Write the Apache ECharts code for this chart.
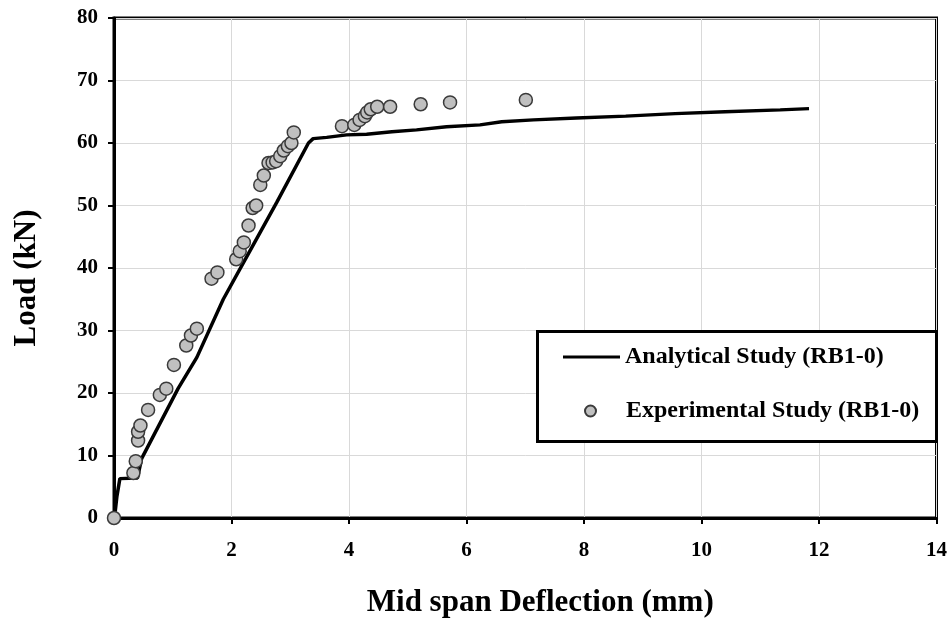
<!DOCTYPE html>
<html>
<head>
<meta charset="utf-8">
<script src="https://cdn.jsdelivr.net/npm/echarts@6/dist/echarts.min.js"></script>
<style>
  html, body { margin: 0; padding: 0; background: #fff; }
  #chart { width: 950px; height: 623px; }
</style>
</head>
<body>
<div id="chart"></div>
<script>
// Load–deflection response of beam RB1-0
const analyticalDeflection = [0, 0.02, 0.05, 0.10, 0.40, 0.47, 1.09, 1.41, 1.86, 2.30, 2.77, 3.31, 3.39, 3.62, 3.96, 4.30, 4.32, 4.73, 5.15, 5.17, 5.66, 6.23, 6.25, 6.60, 7.14, 7.16, 7.87, 7.89, 8.71, 8.73, 9.55, 9.57, 10.40, 10.42, 11.34, 11.36, 11.83];
const analyticalLoad = [0, 1.0, 3.5, 6.3, 6.4, 9.5, 20.7, 25.7, 35.0, 42.5, 50.5, 60.0, 60.7, 60.9, 61.3, 61.4, 61.7, 61.8, 62.1, 62.3, 62.6, 62.9, 63.2, 63.4, 63.7, 63.9, 64.0, 64.2, 64.3, 64.6, 64.7, 64.9, 65.0, 65.3, 65.3, 65.5, 65.5];

const experimentalDeflection = [0, 0.33, 0.37, 0.41, 0.41, 0.45, 0.58, 0.78, 0.89, 1.02, 1.23, 1.31, 1.41, 1.66, 1.76, 2.08, 2.14, 2.21, 2.29, 2.36, 2.42, 2.49, 2.55, 2.63, 2.70, 2.76, 2.83, 2.89, 2.96, 3.02, 3.06, 3.88, 4.09, 4.18, 4.27, 4.31, 4.37, 4.48, 4.70, 5.22, 5.72, 7.01];
const experimentalLoad = [0, 7.2, 9.1, 12.4, 13.8, 14.8, 17.3, 19.7, 20.7, 24.5, 27.6, 29.2, 30.3, 38.3, 39.3, 41.4, 42.7, 44.1, 46.8, 49.6, 50.0, 53.3, 54.8, 56.8, 56.9, 57.1, 57.9, 58.8, 59.5, 60.0, 61.7, 62.7, 62.9, 63.7, 64.3, 64.9, 65.4, 65.8, 65.8, 66.2, 66.5, 66.9];

const analyticalName = 'Analytical Study (RB1-0)';
const experimentalName = 'Experimental Study (RB1-0)';
const xTitle = 'Mid span Deflection (mm)';
const yTitle = 'Load (kN)';

const zip = (xs, ys) => xs.map((x, i) => [x, ys[i]]);
const serif = '"Liberation Serif", "Times New Roman", serif';

const chart = echarts.init(document.getElementById('chart'), null, { renderer: 'canvas' });

const legendText = {
  fontFamily: serif, fontWeight: 'bold', fontSize: 24, color: '#000', lineHeight: 26
};

chart.setOption({
  animation: false,
  backgroundColor: '#fff',
  grid: {
    left: 114, right: 13, top: 18, bottom: 104,
    show: true, borderColor: '#000', borderWidth: 3, backgroundColor: 'transparent'
  },
  xAxis: {
    type: 'value', min: 0, max: 14, interval: 2,
    name: xTitle, nameLocation: 'middle', nameGap: 69,
    nameTextStyle: { fontFamily: serif, fontWeight: 'bold', fontSize: 31, color: '#000', padding: [0, 0, 0, 30] },
    axisLine: { show: true, onZero: false, lineStyle: { color: '#000', width: 3 } },
    axisTick: { show: true, inside: false, length: 6, lineStyle: { color: '#000', width: 2 } },
    axisLabel: { margin: 22, fontFamily: serif, fontWeight: 'bold', fontSize: 21, color: '#000' },
    splitLine: { show: true, lineStyle: { color: '#d9d9d9', width: 1 } }
  },
  yAxis: {
    type: 'value', min: 0, max: 80, interval: 10,
    name: yTitle, nameLocation: 'middle', nameGap: 72, nameRotate: 90,
    nameTextStyle: { fontFamily: serif, fontWeight: 'bold', fontSize: 31, color: '#000', padding: [0, 20, 0, 0] },
    axisLine: { show: true, onZero: false, lineStyle: { color: '#000', width: 3 } },
    axisTick: { show: true, inside: false, length: 6, lineStyle: { color: '#000', width: 2 } },
    axisLabel: { margin: 16, fontFamily: serif, fontWeight: 'bold', fontSize: 21, color: '#000' },
    splitLine: { show: true, lineStyle: { color: '#d9d9d9', width: 1 } }
  },
  graphic: [{
    type: 'rect', z: 5,
    shape: { x: 537.5, y: 331.5, width: 399, height: 110 },
    style: { fill: '#fff', stroke: '#000', lineWidth: 3 }
  }],
  legend: [{
    data: [analyticalName],
    orient: 'horizontal', left: 563, top: 344, padding: 0, z: 10,
    icon: 'rect', itemWidth: 57, itemHeight: 3, selectedMode: false,
    itemStyle: { color: '#000', borderWidth: 0 },
    textStyle: legendText
  }, {
    data: [experimentalName],
    orient: 'horizontal', left: 584, top: 398, padding: 0, z: 10,
    itemWidth: 11, itemHeight: 11, icon: 'circle', selectedMode: false,
    textStyle: Object.assign({}, legendText, { padding: [0, 0, 0, 25] })
  }],
  series: [{
    name: analyticalName,
    type: 'line',
    data: zip(analyticalDeflection, analyticalLoad),
    showSymbol: false, symbol: 'none',
    lineStyle: { color: '#000', width: 3.5 },
    itemStyle: { color: '#000' },
    z: 3
  }, {
    name: experimentalName,
    type: 'scatter',
    data: zip(experimentalDeflection, experimentalLoad),
    symbol: 'circle', symbolSize: 13, clip: false,
    itemStyle: { color: '#c0c0c0', borderColor: '#3a3a3a', borderWidth: 1.5, opacity: 1 },
    z: 4
  }]
});
</script>
</body>
</html>
